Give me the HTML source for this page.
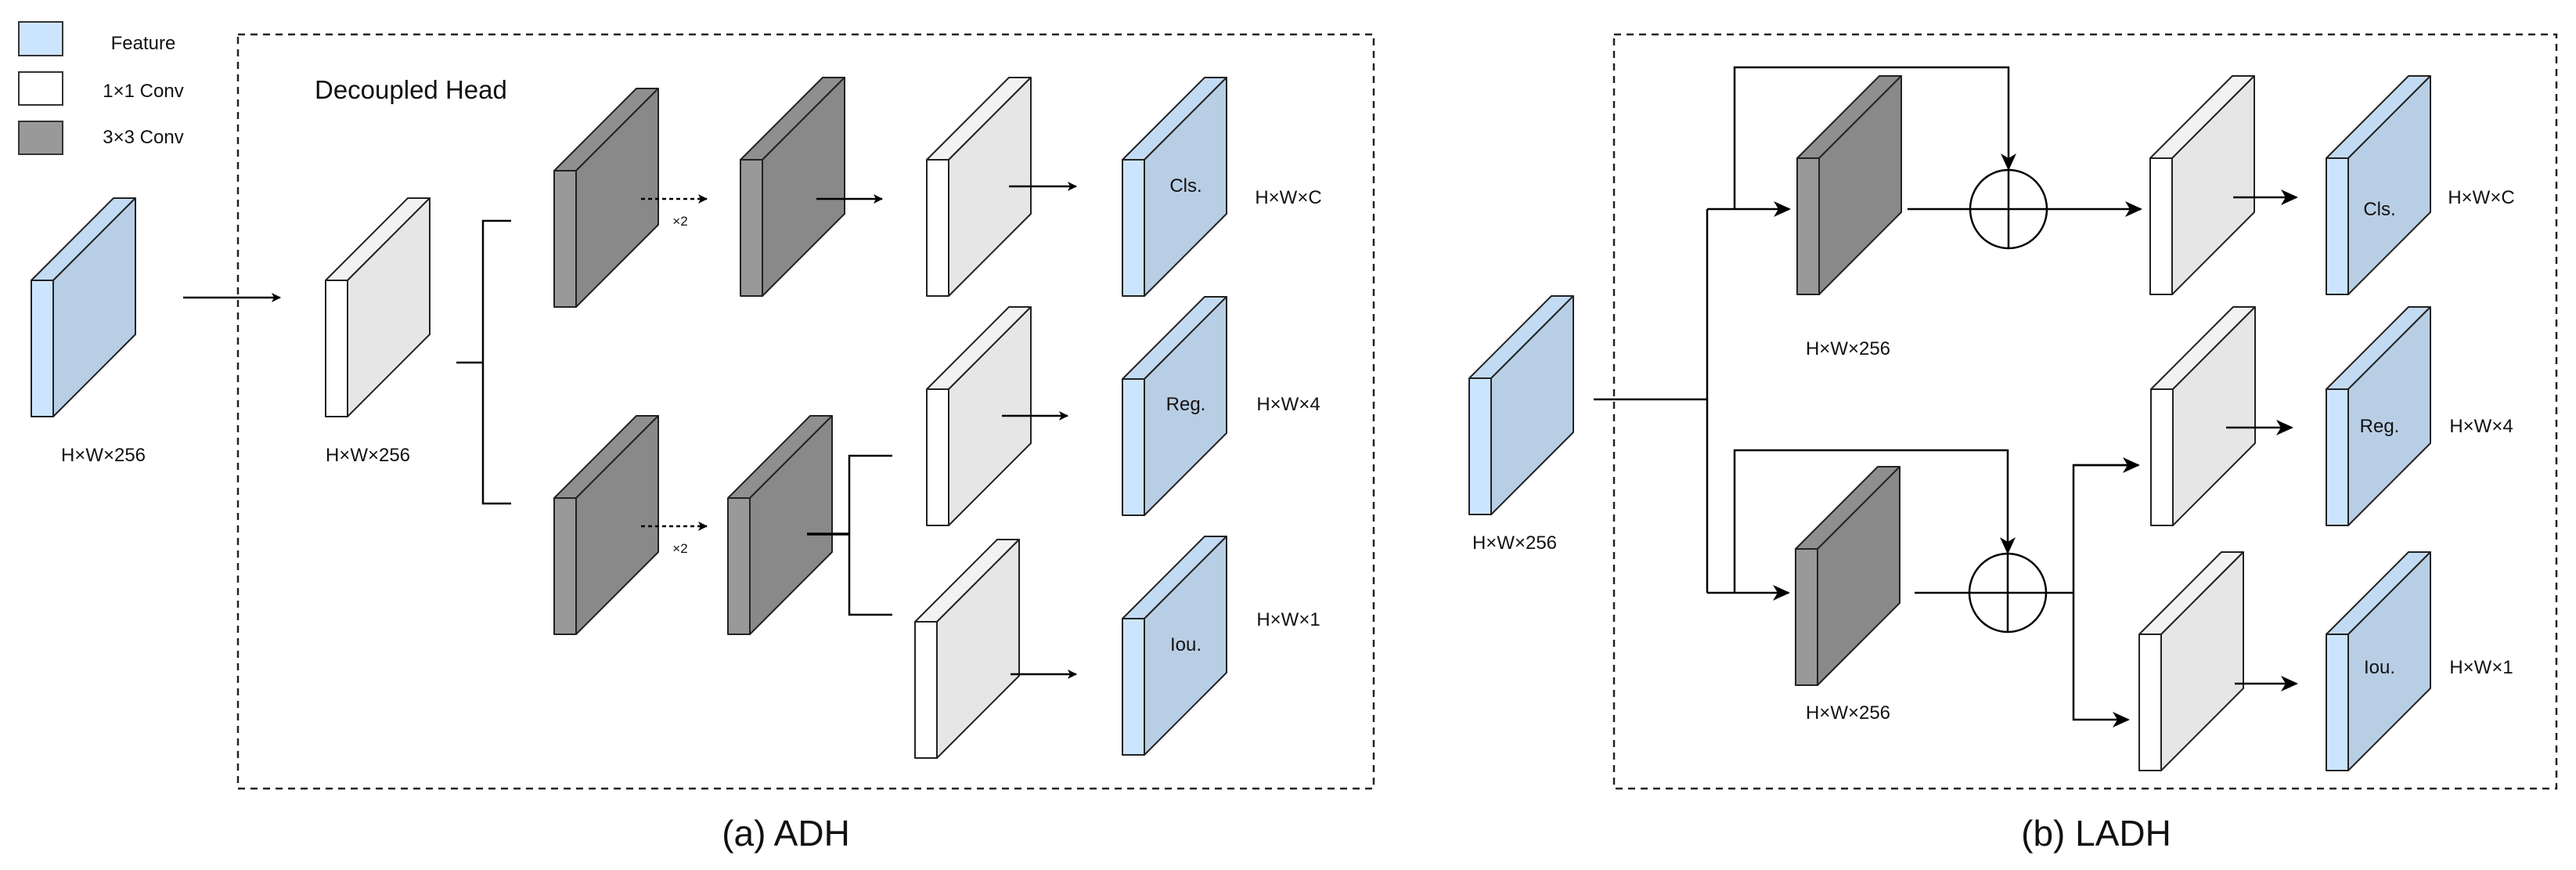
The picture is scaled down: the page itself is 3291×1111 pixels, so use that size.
<!DOCTYPE html>
<html><head><meta charset="utf-8"><style>
html,body{margin:0;padding:0;background:#fff;}
svg{display:block;}
text{font-family:"Liberation Sans",Arial,sans-serif;fill:#111;}
</style></head><body>
<svg id="s" width="3291" height="1111" viewBox="0 0 3291 1111" xmlns="http://www.w3.org/2000/svg">
<defs>
<marker id="ah" markerWidth="12" markerHeight="12" refX="11" refY="6" orient="auto" markerUnits="userSpaceOnUse" viewBox="0 0 12 12">
<path d="M0,0 L12,6 L0,12 L3,6 z" fill="#000"/>
</marker>
<marker id="ahL" markerWidth="22" markerHeight="20" refX="20" refY="10" orient="auto" markerUnits="userSpaceOnUse" viewBox="0 0 22 20">
<path d="M0,0 L22,10 L0,20 L6,10 z" fill="#000"/>
</marker>
</defs>
<g id="blocks"></g>
<!-- legend -->
<rect x="24" y="28" width="56" height="43" fill="#cce5ff" stroke="#333" stroke-width="2"/>
<rect x="24" y="92" width="56" height="42" fill="#fff" stroke="#333" stroke-width="2"/>
<rect x="24" y="155" width="56" height="42" fill="#999" stroke="#333" stroke-width="2"/>
<text x="183" y="63" font-size="24" text-anchor="middle">Feature</text>
<text x="183" y="124" font-size="24" text-anchor="middle">1×1 Conv</text>
<text x="183" y="183" font-size="24" text-anchor="middle">3×3 Conv</text>

<!-- dashed boxes -->
<rect x="304" y="44" width="1451" height="963" fill="none" stroke="#222" stroke-width="2.5" stroke-dasharray="9,7"/>
<rect x="2062" y="44" width="1204" height="963" fill="none" stroke="#222" stroke-width="2.5" stroke-dasharray="9,7"/>

<text x="402" y="126" font-size="33">Decoupled Head</text>

<g stroke="#000" stroke-width="2.5" fill="none">
<!-- ADH connectors -->
<line x1="234" y1="380" x2="358" y2="380" marker-end="url(#ah)"/>
<polyline points="653,282 617,282 617,643 653,643"/>
<line x1="583" y1="463" x2="617" y2="463"/>
<line x1="819" y1="254" x2="903" y2="254" stroke-dasharray="5,4" marker-end="url(#ah)"/>
<line x1="819" y1="672" x2="903" y2="672" stroke-dasharray="5,4" marker-end="url(#ah)"/>
<line x1="1043" y1="254" x2="1127" y2="254" marker-end="url(#ah)"/>
<line x1="1289" y1="238" x2="1375" y2="238" marker-end="url(#ah)"/>
<line x1="1280" y1="531" x2="1364" y2="531" marker-end="url(#ah)"/>
<line x1="1291" y1="861" x2="1375" y2="861" marker-end="url(#ah)"/>
<line x1="1031" y1="682" x2="1085" y2="682" stroke-width="3.5"/>
<polyline points="1140,582 1085,582 1085,785 1140,785"/>

<!-- LADH connectors -->
<line x1="2036" y1="510" x2="2181" y2="510"/>
<line x1="2181" y1="267" x2="2181" y2="757"/>
<line x1="2181" y1="267" x2="2286" y2="267" marker-end="url(#ahL)"/>
<line x1="2181" y1="757" x2="2285" y2="757" marker-end="url(#ahL)"/>
<polyline points="2216,267 2216,86 2566,86 2566,216" marker-end="url(#ahL)"/>
<polyline points="2216,757 2216,575 2565,575 2565,706" marker-end="url(#ahL)"/>
<line x1="2437" y1="267" x2="2735" y2="267" marker-end="url(#ahL)"/>
<ellipse cx="2566" cy="267" rx="49" ry="50"/>
<line x1="2566" y1="217" x2="2566" y2="317"/>
<line x1="2446" y1="757" x2="2649" y2="757"/>
<ellipse cx="2565" cy="757" rx="49" ry="50"/>
<line x1="2565" y1="707" x2="2565" y2="807"/>
<polyline points="2732,594 2649,594 2649,919 2719,919" marker-end="url(#ahL)"/>
<line x1="2649" y1="594" x2="2732" y2="594" marker-end="url(#ahL)"/>
<line x1="2853" y1="252" x2="2934" y2="252" marker-end="url(#ahL)"/>
<line x1="2844" y1="546" x2="2928" y2="546" marker-end="url(#ahL)"/>
<line x1="2855" y1="873" x2="2934" y2="873" marker-end="url(#ahL)"/>
</g>

<g font-size="24">
<text x="132" y="589" text-anchor="middle">H×W×256</text>
<text x="470" y="589" text-anchor="middle">H×W×256</text>
<text x="869" y="288" font-size="17" text-anchor="middle">×2</text>
<text x="869" y="706" font-size="17" text-anchor="middle">×2</text>
<text x="1515" y="245" text-anchor="middle">Cls.</text>
<text x="1515" y="524" text-anchor="middle">Reg.</text>
<text x="1515" y="831" text-anchor="middle">Iou.</text>
<text x="1646" y="260" text-anchor="middle">H×W×C</text>
<text x="1646" y="524" text-anchor="middle">H×W×4</text>
<text x="1646" y="799" text-anchor="middle">H×W×1</text>
<text x="1935" y="701" text-anchor="middle">H×W×256</text>
<text x="2361" y="453" text-anchor="middle">H×W×256</text>
<text x="2361" y="918" text-anchor="middle">H×W×256</text>
<text x="3040" y="275" text-anchor="middle">Cls.</text>
<text x="3040" y="552" text-anchor="middle">Reg.</text>
<text x="3040" y="860" text-anchor="middle">Iou.</text>
<text x="3170" y="260" text-anchor="middle">H×W×C</text>
<text x="3170" y="552" text-anchor="middle">H×W×4</text>
<text x="3170" y="860" text-anchor="middle">H×W×1</text>
</g>
<text x="1004" y="1080" font-size="46" text-anchor="middle">(a) ADH</text>
<text x="2678" y="1080" font-size="46" text-anchor="middle">(b) LADH</text>
</svg>
<script>
(function(){
var g=document.getElementById('blocks');
var C={f:['#cce5ff','#c3dbf2','#b8cee5'],w:['#ffffff','#f2f2f2','#e6e6e6'],g:['#999999','#8f8f8f','#898989']};
var B=[
['f',40,358],['w',416,358],
['g',708,218],['g',946,204],['w',1184,204],['f',1434,204],
['w',1184,497],['f',1434,484],
['g',708,636],['g',930,636],['w',1169,794],['f',1434,790],
['f',1877,483],['g',2296,202],['g',2294,701],
['w',2747,202],['f',2972,202],
['w',2748,497],['f',2972,497],
['w',2733,810],['f',2972,810]
];
var W=28,H=174,D=105,ns='http://www.w3.org/2000/svg';
function p(pts,fill){var e=document.createElementNS(ns,'polygon');e.setAttribute('points',pts);e.setAttribute('fill',fill);e.setAttribute('stroke','#222');e.setAttribute('stroke-width','2');e.setAttribute('stroke-linejoin','round');g.appendChild(e);}
B.forEach(function(b){var c=C[b[0]],x=b[1],y=b[2];
p([x,y,x+W,y,x+W,y+H,x,y+H].join(' '),c[0]);
p([x,y,x+W,y,x+W+D,y-D,x+D,y-D].join(' '),c[1]);
p([x+W,y,x+W+D,y-D,x+W+D,y-D+H,x+W,y+H].join(' '),c[2]);
});
})();
</script>
</body></html>
